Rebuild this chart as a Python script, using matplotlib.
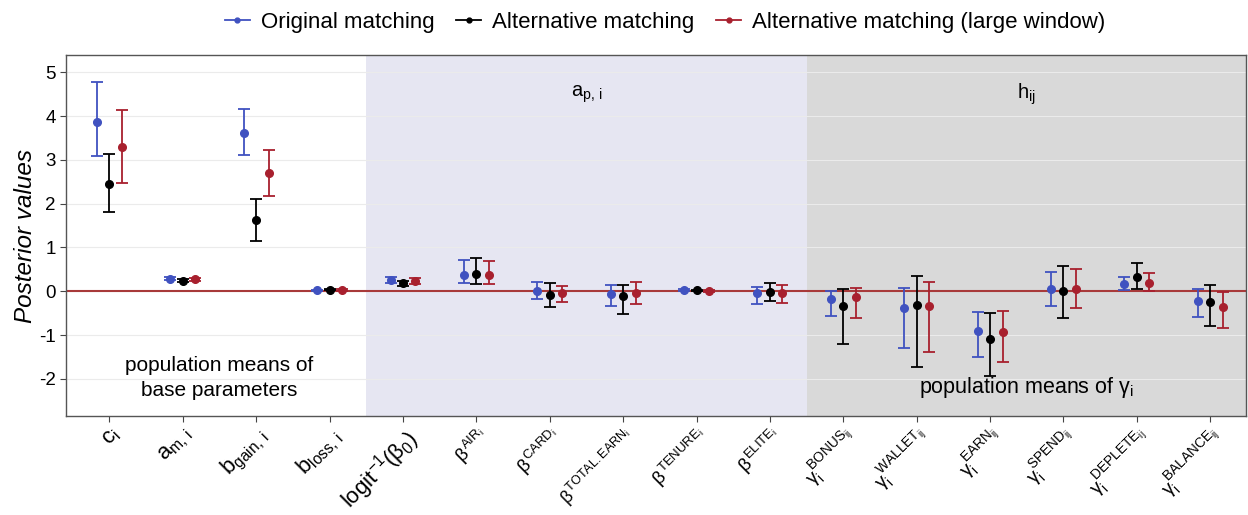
import matplotlib
matplotlib.use("Agg")
import matplotlib.pyplot as plt
from matplotlib.lines import Line2D
import numpy as np

plt.rcParams['font.family'] = ['Liberation Sans', 'DejaVu Sans']
plt.rcParams['mathtext.fontset'] = 'custom'
plt.rcParams['mathtext.rm'] = 'Liberation Sans'
plt.rcParams['mathtext.it'] = 'Liberation Sans'
plt.rcParams['mathtext.bf'] = 'Liberation Sans:bold'

labels = [r'$\mathrm{c_i}$', r'$\mathrm{a_{m,\,i}}$', r'$\mathrm{b_{gain,\,i}}$', r'$\mathrm{b_{loss,\,i}}$',
          r'$\mathrm{logit^{-1}(\beta_0)}$', r'$\beta^{\mathrm{AIR_i}}$', r'$\beta^{\mathrm{CARD_i}}$',
          r'$\beta^{\mathrm{TOTAL.EARN_i}}$', r'$\beta^{\mathrm{TENURE_i}}$', r'$\beta^{\mathrm{ELITE_i}}$',
          r'$\gamma_i^{\mathrm{BONUS_{ij}}}$', r'$\gamma_i^{\mathrm{WALLET_{ij}}}$', r'$\gamma_i^{\mathrm{EARN_{ij}}}$',
          r'$\gamma_i^{\mathrm{SPEND_{ij}}}$', r'$\gamma_i^{\mathrm{DEPLETE_{ij}}}$', r'$\gamma_i^{\mathrm{BALANCE_{ij}}}$']

series_names = ['Original matching', 'Alternative matching', 'Alternative matching (large window)']

orig_mean = [3.87, 0.29, 3.61, 0.02, 0.25, 0.37, 0.01, -0.07, 0.02, -0.05, -0.17, -0.39, -0.91, 0.06, 0.17, -0.23]
orig_low  = [3.08, 0.26, 3.10, 0.00, 0.18, 0.18, -0.18, -0.34, 0.00, -0.30, -0.57, -1.30, -1.51, -0.33, 0.02, -0.59]
orig_high = [4.78, 0.32, 4.16, 0.04, 0.33, 0.72, 0.20, 0.14, 0.05, 0.10, 0.01, 0.08, -0.48, 0.44, 0.33, 0.05]

alt_mean = [2.44, 0.24, 1.62, 0.04, 0.19, 0.40, -0.09, -0.11, 0.02, -0.02, -0.33, -0.32, -1.10, 0.01, 0.32, -0.25]
alt_low  = [1.81, 0.20, 1.15, 0.02, 0.13, 0.16, -0.37, -0.53, 0.00, -0.22, -1.21, -1.73, -1.93, -0.61, 0.05, -0.79]
alt_high = [3.14, 0.28, 2.10, 0.06, 0.24, 0.77, 0.18, 0.14, 0.04, 0.18, 0.05, 0.35, -0.50, 0.57, 0.65, 0.15]

lw_mean = [3.29, 0.27, 2.71, 0.03, 0.24, 0.37, -0.04, -0.04, 0.01, -0.04, -0.13, -0.33, -0.92, 0.06, 0.19, -0.35]
lw_low  = [2.48, 0.24, 2.18, 0.01, 0.16, 0.16, -0.24, -0.30, -0.01, -0.27, -0.60, -1.39, -1.61, -0.39, 0.00, -0.84]
lw_high = [4.13, 0.30, 3.23, 0.05, 0.31, 0.68, 0.13, 0.21, 0.03, 0.14, 0.08, 0.20, -0.45, 0.50, 0.42, -0.02]

colors = ['#4052C0', '#000000', '#A8202E']

fig = plt.figure(figsize=(12.48, 5.15), dpi=100)
ax = fig.add_axes([0.053, 0.192, 0.945, 0.701])

x = np.arange(1, len(labels) + 1)
ax.set_xlim(0.41, 16.48)
ax.set_ylim(-2.85, 5.39)

ax.axvspan(4.5, 10.5, color='#E6E6F2', zorder=0, lw=0)
ax.axvspan(10.5, 16.48, color='#D9D9D9', zorder=0, lw=0)
for yv in range(-2, 6):
    ax.axhline(yv, color='#EBEBEB', lw=0.8, zorder=0.5)

offsets = [-0.17, 0.0, 0.17]
data = [(orig_mean, orig_low, orig_high), (alt_mean, alt_low, alt_high), (lw_mean, lw_low, lw_high)]
handles = []
for (m, lo, hi), off, c, name in zip(data, offsets, colors, series_names):
    m = np.array(m); lo = np.array(lo); hi = np.array(hi)
    ax.errorbar(x + off, m, yerr=[m - lo, hi - m], fmt='o', color=c, ms=5.5,
                elinewidth=1.3, capsize=4.5, capthick=1.3, zorder=3)
    handles.append(Line2D([0], [0], color=c, marker='o', ms=3.5, lw=1.3))

ax.axhline(0, color='#A83A3A', lw=1.5, zorder=2)

ax.set_yticks(range(-2, 6))
ax.set_yticklabels([str(v) for v in range(-2, 6)], fontsize=13.5)
ax.set_xticks(x)
ax.set_xticklabels(labels, rotation=45, ha='right', rotation_mode='anchor')
sizes = [16, 16, 16, 16, 16, 13.5, 13.5, 13, 13.5, 13.5, 14, 14, 14, 14, 14, 14]
for t, s in zip(ax.get_xticklabels(), sizes):
    t.set_fontsize(s)
ax.tick_params(axis='both', color='#444444', length=4, labelcolor='black')
ax.tick_params(axis='x', pad=2)
for sp in ax.spines.values():
    sp.set_color('#555555')
    sp.set_linewidth(1.0)

ax.set_ylabel('Posterior values', fontsize=17.5, style='italic', labelpad=1)

ax.text(2.5, -1.98, 'population means of\nbase parameters', ha='center', va='center',
        fontsize=15, linespacing=1.45)
ax.text(7.5, 4.5, r'$\mathrm{a_{p,\,i}}$', ha='center', va='center', fontsize=14.5)
ax.text(13.5, 4.5, r'$\mathrm{h_{ij}}$', ha='center', va='center', fontsize=14.5)
ax.text(13.5, -2.2, r'population means of $\gamma_\mathrm{i}$', ha='center', va='center', fontsize=15.5)

fig.legend(handles, series_names, loc='upper center', bbox_to_anchor=(0.533, 1.015), ncol=3,
           frameon=False, fontsize=16, handlelength=1.1, handletextpad=0.5, columnspacing=1.0)

fig.savefig('out.png', dpi=100)
